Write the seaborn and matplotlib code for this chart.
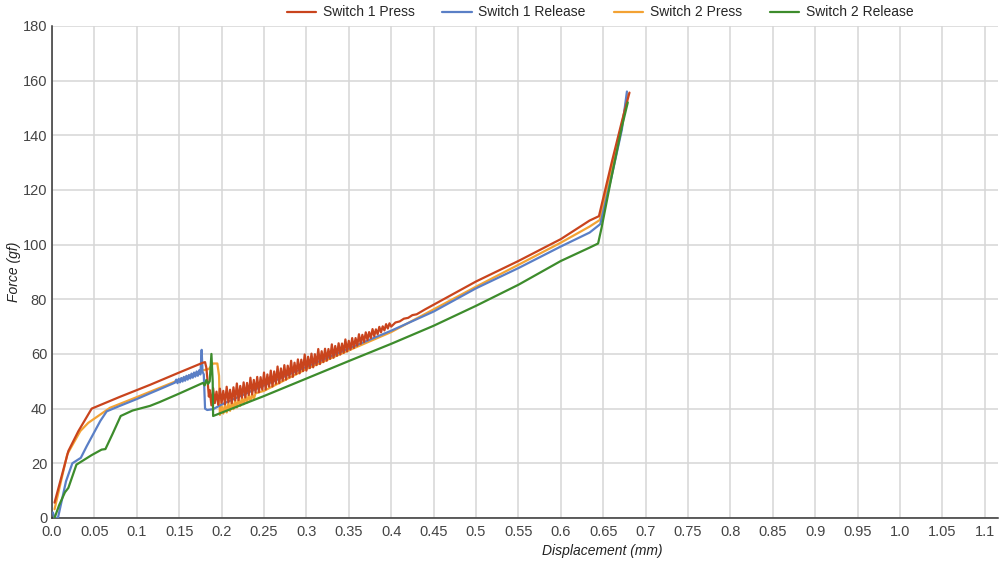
import matplotlib
matplotlib.use("Agg")
import matplotlib.pyplot as plt
import seaborn as sns
import pandas as pd

# Switch 1 Press (red) - includes the noisy band after the tactile drop
s1_press_x = [
    0.003, 0.0193, 0.031, 0.0468, 0.08, 0.1156, 0.15, 0.172, 0.178, 0.1805, 0.182, 0.1835, 0.185,
    0.186, 0.188, 0.190, 0.192, 0.194, 0.196, 0.198, 0.200, 0.202, 0.204,
    0.206, 0.208, 0.210, 0.212, 0.214, 0.216, 0.218, 0.220, 0.222, 0.224,
    0.226, 0.228, 0.230, 0.232, 0.234, 0.236, 0.238, 0.240, 0.242, 0.244,
    0.246, 0.248, 0.250, 0.252, 0.254, 0.256, 0.258, 0.260, 0.262, 0.264,
    0.266, 0.268, 0.270, 0.272, 0.274, 0.276, 0.278, 0.280, 0.282, 0.284,
    0.286, 0.288, 0.290, 0.292, 0.294, 0.296, 0.298, 0.300, 0.302, 0.304,
    0.306, 0.308, 0.310, 0.312, 0.314, 0.316, 0.318, 0.320, 0.322, 0.324,
    0.326, 0.328, 0.330, 0.332, 0.334, 0.336, 0.338, 0.340, 0.342, 0.344,
    0.346, 0.348, 0.350, 0.352, 0.354, 0.356, 0.358, 0.360, 0.362, 0.364,
    0.366, 0.368, 0.370, 0.372, 0.374, 0.376, 0.378, 0.380, 0.382, 0.384,
    0.386, 0.388, 0.390, 0.392, 0.394, 0.396, 0.398, 0.400,
    0.405, 0.41, 0.415, 0.42, 0.425, 0.43, 0.44, 0.45,
    0.5, 0.55, 0.6, 0.634, 0.645, 0.66, 0.672, 0.681,
]
s1_press_y = [
    5.6, 24.5, 31.7, 40.0, 44.3, 48.7, 53.2, 56.0, 56.8, 57.0, 55.0, 50.0, 44.4,
    46.8, 41.2, 47.5, 42.0, 46.2, 41.4, 47.3, 42.1, 46.5, 41.6,
    48.0, 42.3, 46.9, 42.0, 47.8, 43.0, 49.2, 43.1, 48.3, 44.0,
    49.6, 44.1, 49.4, 45.0, 51.3, 45.2, 50.5, 45.9, 51.6, 46.0,
    51.5, 46.9, 53.2, 47.0, 52.5, 48.0, 53.9, 48.1, 53.6, 49.1,
    55.4, 49.3, 54.7, 50.2, 55.9, 50.6, 55.7, 51.4, 57.5, 51.6,
    56.8, 52.6, 58.0, 52.9, 57.9, 53.7, 59.8, 53.9, 59.0, 54.8,
    60.1, 55.1, 59.9, 55.9, 61.8, 56.3, 61.0, 57.0, 61.9, 57.5,
    61.8, 58.2, 63.5, 58.6, 62.9, 59.3, 63.9, 59.8, 63.8, 60.4,
    65.3, 60.9, 64.8, 61.6, 65.8, 62.2, 65.8, 63.0, 67.2, 63.7,
    67.0, 64.4, 67.9, 65.1, 68.0, 65.8, 69.1, 66.5, 69.0, 67.2,
    69.9, 67.9, 70.1, 68.6, 70.9, 69.3, 71.2, 70.0,
    71.5, 71.9, 72.9, 73.2, 74.2, 74.5, 76.3, 78.0,
    86.5, 94.0, 102.0, 108.8, 110.4, 130.0, 145.0, 155.6,
]

# Switch 1 Release (blue)
s1_release_x = [
    0.001, 0.003, 0.007, 0.0165, 0.024, 0.034, 0.041, 0.057, 0.0645, 0.08, 0.1, 0.1156,
    0.13, 0.145, 0.1465, 0.148, 0.1495, 0.151, 0.1525, 0.154, 0.1555, 0.157, 0.1585,
    0.16, 0.1615, 0.163, 0.1645, 0.166, 0.1675, 0.169, 0.1705, 0.172, 0.1735, 0.175,
    0.1765, 0.1775, 0.179, 0.1805, 0.183, 0.19, 0.2, 0.25, 0.3, 0.35, 0.4, 0.45,
    0.5, 0.55, 0.6, 0.634, 0.6466, 0.66, 0.672, 0.678,
]
s1_release_y = [
    2.0, 0.0, 0.0, 13.4, 20.0, 22.0, 26.3, 35.5, 39.0, 41.0, 43.5, 45.6,
    47.5, 49.5, 50.6, 49.3, 50.9, 49.6, 51.2, 49.9, 51.6, 50.2, 52.0,
    50.6, 52.3, 51.0, 52.8, 51.3, 53.2, 51.7, 53.6, 52.0, 54.0, 52.5,
    61.5, 53.5, 52.5, 40.0, 39.5, 39.8, 41.5, 48.5, 55.3, 62.0, 68.5, 75.5,
    84.0, 91.4, 99.3, 104.4, 107.5, 125.0, 142.0, 156.0,
]

# Switch 2 Press (orange)
s2_press_x = [
    0.003, 0.018, 0.0334, 0.0428, 0.0684, 0.1, 0.127, 0.15, 0.17, 0.178, 0.185, 0.19,
    0.195, 0.197, 0.198, 0.2, 0.202, 0.204, 0.206, 0.208, 0.21, 0.212, 0.214, 0.216,
    0.218, 0.22, 0.222, 0.224, 0.226, 0.228, 0.23, 0.232, 0.234, 0.236, 0.238, 0.24,
    0.25, 0.3, 0.35, 0.4, 0.45, 0.5, 0.55, 0.6,
    0.634, 0.646, 0.66, 0.672, 0.679,
]
s2_press_y = [
    3.2, 23.3, 31.8, 34.8, 40.3, 44.2, 47.6, 50.5, 53.0, 54.0, 54.5, 56.5,
    56.5, 52.0, 37.7, 41.0, 38.2, 41.5, 38.6, 42.0, 39.2, 42.4, 39.8, 43.0,
    40.4, 43.5, 41.0, 44.0, 41.6, 44.5, 42.2, 44.9, 42.8, 45.4, 43.5, 45.6,
    46.5, 54.5, 61.3, 68.0, 76.3, 84.6, 92.6, 100.7,
    106.6, 109.0, 128.0, 144.0, 155.0,
]

# Switch 2 Release (green)
s2_release_x = [
    0.003, 0.0083, 0.0153, 0.0193, 0.0288, 0.0468, 0.0585, 0.063, 0.0712, 0.081, 0.095,
    0.1156, 0.127, 0.15, 0.178, 0.18, 0.182, 0.184, 0.186, 0.188, 0.1895, 0.19,
    0.25, 0.3, 0.35, 0.4, 0.45, 0.5, 0.55, 0.6, 0.634, 0.644, 0.648, 0.66, 0.672, 0.679,
]
s2_release_y = [
    0.0, 4.6, 9.4, 11.0, 19.5, 23.0, 25.0, 25.2, 30.6, 37.3, 39.3,
    41.0, 42.4, 45.5, 49.4, 48.5, 50.5, 49.0, 50.0, 60.0, 50.0, 37.3,
    44.6, 51.0, 57.4, 63.7, 70.3, 77.6, 85.3, 94.0, 98.9, 100.4, 106.0, 125.0, 143.0, 152.0,
]

series_names = ["Switch 1 Press", "Switch 1 Release", "Switch 2 Press", "Switch 2 Release"]
series_colors = ["#c9441d", "#5a7fc6", "#f3a233", "#3d8c2c"]

x_ticks = [round(0.05 * i, 2) for i in range(23)]
y_ticks = list(range(0, 181, 20))


def tick_text(v):
    s = f"{v:.2f}".rstrip("0")
    return s + "0" if s.endswith(".") else s


def main() -> None:
    sns.set_style("white")
    plt.rcParams["font.family"] = ["Liberation Sans", "DejaVu Sans"]

    frames = {
        "Switch 1 Press": (s1_press_x, s1_press_y),
        "Switch 1 Release": (s1_release_x, s1_release_y),
        "Switch 2 Press": (s2_press_x, s2_press_y),
        "Switch 2 Release": (s2_release_x, s2_release_y),
    }
    colors = dict(zip(series_names, series_colors))

    fig = plt.figure(figsize=(10, 5.63), dpi=100)
    ax = fig.add_axes([0.052, 0.080, 0.946, 0.874])

    # draw order chosen so the noisy red band sits over blue/orange like the original
    draw_order = ["Switch 2 Press", "Switch 1 Release", "Switch 1 Press", "Switch 2 Release"]
    handles = {}
    for z, name in enumerate(draw_order):
        xs, ys = frames[name]
        df = pd.DataFrame({"x": xs, "y": ys})
        sns.lineplot(data=df, x="x", y="y", sort=False, estimator=None, color=colors[name],
                     linewidth=1.6, ax=ax, zorder=3 + z)
        handles[name] = ax.lines[-1]

    ax.set_xlim(0, 1.1156)
    ax.set_ylim(0, 180)
    ax.set_xticks(x_ticks)
    ax.set_xticklabels([tick_text(v) for v in x_ticks])
    ax.set_yticks(y_ticks)
    ax.grid(True, color="#d6d6d6", linewidth=1.1)
    ax.set_axisbelow(True)
    ax.tick_params(axis="both", length=0, labelsize=10.5, colors="#444444")
    ax.tick_params(axis="x", pad=5)
    ax.tick_params(axis="y", pad=3.5)

    for side in ["top", "right"]:
        ax.spines[side].set_visible(False)
    for side in ["left", "bottom"]:
        ax.spines[side].set_color("#333333")
        ax.spines[side].set_linewidth(1.1)

    ax.set_xlabel("Displacement (mm)", fontsize=10, fontstyle="italic", color="#222222")
    ax.set_ylabel("Force (gf)", fontsize=10, fontstyle="italic", color="#222222")
    ax.xaxis.set_label_coords(0.582, -0.053)
    ax.yaxis.set_label_coords(-0.033, 0.5)

    fig.legend([handles[n] for n in series_names], series_names, loc="center",
               bbox_to_anchor=(0.6, 0.978), ncol=4, frameon=False, fontsize=10,
               handlelength=2.1, handletextpad=0.5, columnspacing=2.0)

    fig.savefig("out.png", dpi=100)
    plt.close(fig)


if __name__ == "__main__":
    main()
